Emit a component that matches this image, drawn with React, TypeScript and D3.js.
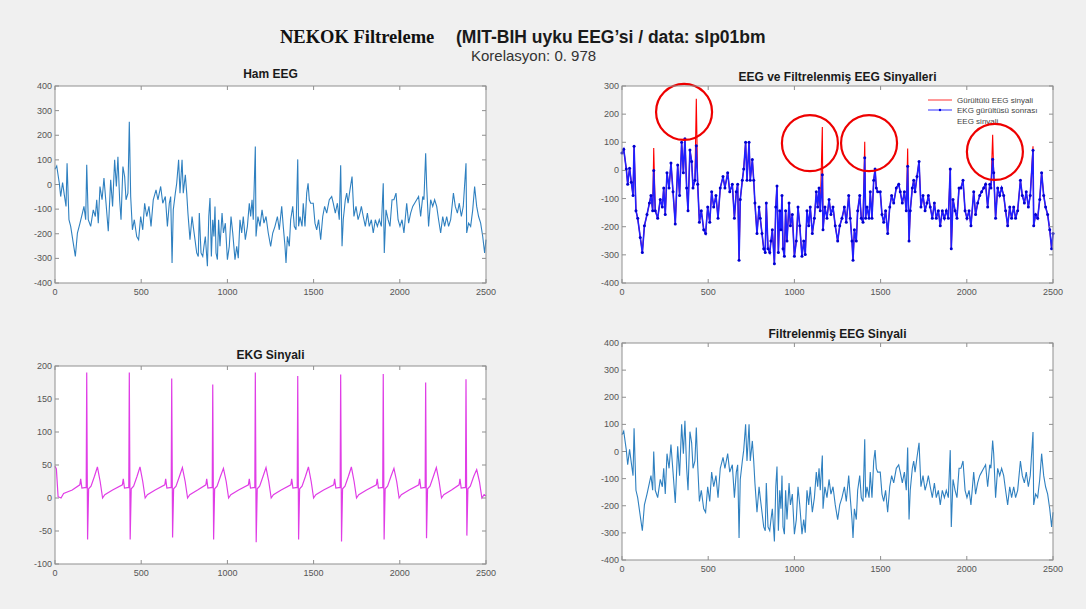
import React from 'react'
import * as d3 from 'd3'

const W = 1086
const H = 609

// x ekseni: örnek numarası
const xTicks = [0, 500, 1000, 1500, 2000, 2500]
const eegTicks = [-400, -300, -200, -100, 0, 100, 200, 300, 400]
const mixTicks = [-400, -300, -200, -100, 0, 100, 200, 300]
const ekgTicks = [-100, -50, 0, 50, 100, 150, 200]

// filtrelenmiş EEG [örnek, genlik]
const filteredEeg: [number, number][] = [
  [0, 62], [10, 75], [25, 5], [33, -49], [44, 8], [54, -42], [64, -89], [70, 86], [81, -143], [91, -170],
  [106, -238], [118, -292], [130, -197], [145, -157], [159, -116], [168, -89], [178, -143], [184, 0], [193, -143], [207, -170],
  [222, -103], [234, -130], [242, -62], [251, -157], [261, -8], [273, -62], [284, 26], [296, -76], [309, -190], [323, 19],
  [334, -89], [346, 100], [356, -8], [365, 113], [375, -62], [383, -143], [394, 73], [404, 32], [412, -62], [423, -35],
  [431, 88], [439, -49], [449, -184], [460, -143], [474, -211], [485, -224], [497, -130], [509, -184], [520, -76], [532, -130],
  [545, -89], [557, -170], [570, -62], [586, -22], [597, -62], [613, -8], [625, -76], [640, -49], [652, -170], [663, -76],
  [671, -49], [679, -319], [686, -103], [698, -35], [706, 5], [717, 100], [725, -35], [737, 100], [744, -35], [756, 39],
  [764, -35], [771, -116], [783, -224], [795, -130], [802, -170], [812, -224], [822, -278], [831, -292], [837, -116], [847, -278],
  [857, -292], [864, -251], [872, -211], [884, -332], [892, -130], [899, -55], [907, -292], [915, -143], [922, -211], [928, -89],
  [934, -278], [942, -305], [949, -143], [957, -251], [969, -116], [977, -197], [988, -157], [1000, -305], [1011, -251], [1021, -130],
  [1031, -197], [1044, -305], [1054, -251], [1063, -299], [1073, -143], [1083, -197], [1092, -130], [1104, -224], [1116, -170], [1127, -76],
  [1135, -130], [1143, -62], [1150, -143], [1162, -15], [1166, -211], [1177, -130], [1189, -170], [1201, -103], [1212, -157], [1224, -130],
  [1237, -197], [1251, -251], [1263, -197], [1276, -170], [1290, -130], [1301, -184], [1315, -89], [1324, -170], [1334, -251], [1340, -319],
  [1348, -211], [1359, -251], [1367, -143], [1379, -89], [1388, -170], [1398, -184], [1408, 45], [1413, -170], [1421, -130], [1433, -170],
  [1440, -76], [1450, -170], [1460, -35], [1468, 5], [1475, -62], [1483, -76], [1498, -76], [1508, -157], [1518, -184], [1529, -143],
  [1541, -224], [1553, -130], [1564, -89], [1576, -116], [1591, -62], [1605, -49], [1614, -76], [1626, -116], [1638, -76], [1649, -143],
  [1657, 15], [1665, -251], [1672, -143], [1684, -62], [1692, -35], [1700, -76], [1711, -22], [1723, 32], [1734, -130], [1746, -89],
  [1758, -143], [1769, -116], [1777, -89], [1788, -130], [1800, -170], [1812, -116], [1823, -170], [1835, -143], [1846, -197], [1858, -143],
  [1870, -170], [1881, -143], [1893, -170], [1904, 5], [1910, -278], [1920, -103], [1932, -143], [1943, -170], [1955, -62], [1966, -62],
  [1978, -35], [1990, -143], [2001, -170], [2013, -143], [2024, -197], [2040, -76], [2051, -157], [2063, -116], [2075, -89], [2086, -76],
  [2098, -62], [2109, -49], [2121, -130], [2133, -49], [2140, -62], [2150, 40], [2156, -8], [2167, -170], [2179, -62], [2191, -89],
  [2202, -62], [2214, -89], [2225, -143], [2237, -197], [2249, -130], [2260, -170], [2272, -130], [2283, -170], [2295, -143], [2311, -35],
  [2322, -89], [2334, -116], [2345, -76], [2357, -130], [2368, -89], [2384, 72], [2388, -197], [2399, -157], [2411, -170], [2423, -103],
  [2434, -8], [2446, -89], [2457, -130], [2469, -157], [2481, -211], [2492, -278], [2500, -224],
]

// ham EEG'deki EKG kaynaklı sivri uçlar
const spikeIdx = [184, 431, 1162, 1408, 1657, 2150, 2384]
const spikeVal = [80, 255, 154, 102, 78, 127, 86]

// EKG: R tepeleri
const ekgPeakIdx = [184, 431, 677, 915, 1162, 1408, 1657, 1904, 2150, 2384]
const ekgR = [190, 190, 181, 172, 190, 185, 187, 188, 175, 180]
const ekgS = [-63, -63, -60, -63, -67, -63, -66, -63, -61, -57]
const ekgT = [47, 47, 46, 45, 46, 47, 47, 45, 46, 43]
const ekgLead: [number, number][] = [[0, 48], [8, 44], [18, 2], [35, 0], [50, 7], [100, 12]]
const beatShape: [number, number | 'R' | 'S' | 'T'][] = [
  [-40, 20], [-35, 29], [-28, 15], [-3, 16], [0, 'R'], [5, 'S'], [11, 14], [25, 18], [45, 33], [62, 'T'], [78, 25], [92, 0], [105, 5], [150, 12],
]

// kırmızı daireler (veri koordinatı)
const circleX = [360, 1090, 1433, 2163]
const circleY = [208, 97, 97, 66]

const rawEeg: [number, number][] = filteredEeg.map(([s, v]) => {
  const k = spikeIdx.indexOf(s)
  return [s, k >= 0 ? spikeVal[k] : v]
})

const ekg: [number, number][] = [...ekgLead]
ekgPeakIdx.forEach((r, i) => {
  beatShape.forEach(([dx, v]) => {
    const s = r + dx
    if (s > 2500) return
    const val = v === 'R' ? ekgR[i] : v === 'S' ? ekgS[i] : v === 'T' ? ekgT[i] : v
    ekg.push([s, val])
  })
})
ekg.push([2500, 3])

const sans = "'Liberation Sans', Arial, sans-serif"

type Scales = { x: d3.ScaleLinear<number, number>, y: d3.ScaleLinear<number, number> }

function Panel (props: {
  left: number, right: number, top: number, bottom: number,
  yDomain: [number, number], yTicks: number[], title: string, titleY: number,
  draw: (s: Scales) => React.ReactNode
}) {
  const { left, right, top, bottom, yDomain, yTicks, title, titleY, draw } = props
  const x = d3.scaleLinear().domain([0, 2500]).range([left, right])
  const y = d3.scaleLinear().domain(yDomain).range([bottom, top])
  const tk = 4
  const axisCol = '#8f8f8f'
  return (
    <g>
      <rect x={left} y={top} width={right - left} height={bottom - top} fill='#fff' />
      {draw({ x, y })}
      <rect x={left} y={top} width={right - left} height={bottom - top} fill='none' stroke={axisCol} strokeWidth={1} />
      {xTicks.map(t => (
        <g key={'x' + t}>
          <line x1={x(t)} x2={x(t)} y1={bottom} y2={bottom - tk} stroke={axisCol} />
          <line x1={x(t)} x2={x(t)} y1={top} y2={top + tk} stroke={axisCol} />
          <text x={x(t)} y={bottom + 12} textAnchor='middle' fontSize={9} fill='#555' fontFamily={sans}>{t}</text>
        </g>
      ))}
      {yTicks.map(t => (
        <g key={'y' + t}>
          <line x1={left} x2={left + tk} y1={y(t)} y2={y(t)} stroke={axisCol} />
          <line x1={right} x2={right - tk} y1={y(t)} y2={y(t)} stroke={axisCol} />
          <text x={left - 3} y={y(t) + 3} textAnchor='end' fontSize={9} fill='#555' fontFamily={sans}>{t}</text>
        </g>
      ))}
      <text x={(left + right) / 2} y={titleY} textAnchor='middle' fontSize={12} fontWeight='bold' fill='#1a1a1a' fontFamily={sans}>{title}</text>
    </g>
  )
}

export default function App () {
  const line = (s: Scales) => d3.line<[number, number]>().x(d => s.x(d[0])).y(d => s.y(d[1]))
  const eegBlue = '#2f80c0'
  return (
    <svg width={W} height={H} style={{ position: 'fixed', left: 0, top: 0 }}>
      <rect width={W} height={H} fill='#f0f0f0' />
      <text x={280} y={43} fontSize={18.5} fontWeight='bold' fill='#111' fontFamily="'Liberation Serif', 'Times New Roman', serif">NEKOK Filtreleme</text>
      <text x={456} y={43} fontSize={17.5} fontWeight='bold' fill='#1a1a1a' fontFamily={sans}>(MIT-BIH uyku EEG’si / data: slp01bm</text>
      <text x={471} y={61} fontSize={15} fill='#333' fontFamily={sans}>Korelasyon: 0. 978</text>

      <Panel left={55} right={486} top={86} bottom={283} yDomain={[-400, 400]} yTicks={eegTicks} title='Ham EEG' titleY={78}
        draw={s => <path d={line(s)(rawEeg) || ''} fill='none' stroke={eegBlue} strokeWidth={1.1} />} />

      <Panel left={622} right={1053} top={86} bottom={283} yDomain={[-400, 300]} yTicks={mixTicks} title='EEG ve Filtrelenmiş EEG Sinyalleri' titleY={81}
        draw={s => (
          <g>
            <path d={line(s)(rawEeg) || ''} fill='none' stroke='#ff0000' strokeWidth={1.1} />
            <path d={line(s)(filteredEeg) || ''} fill='none' stroke='#2020ff' strokeWidth={1.6} />
            {filteredEeg.map((d, i) => <circle key={i} cx={s.x(d[0])} cy={s.y(d[1])} r={1.5} fill='#0000d0' />)}
            <line x1={928} x2={952} y1={100} y2={100} stroke='#ff3030' strokeWidth={1} />
            <text x={957} y={103} fontSize={8} fill='#444' fontFamily={sans}>Gürültülü EEG sinyali</text>
            <line x1={928} x2={952} y1={110} y2={110} stroke='#3030ff' strokeWidth={1} />
            <circle cx={940} cy={110} r={1.2} fill='#0000e0' />
            <text x={957} y={113} fontSize={8} fill='#444' fontFamily={sans}>EKG gürültüsü sonrası</text>
            <text x={957} y={124} fontSize={8} fill='#444' fontFamily={sans}>EEG sinyali</text>
            {circleX.map((cx, i) => (
              <circle key={'c' + i} cx={s.x(cx)} cy={s.y(circleY[i])} r={28} fill='none' stroke='#ee0000' strokeWidth={2.2} />
            ))}
          </g>
        )} />

      <Panel left={55} right={486} top={366} bottom={564} yDomain={[-100, 200]} yTicks={ekgTicks} title='EKG Sinyali' titleY={359}
        draw={s => <path d={line(s)(ekg) || ''} fill='none' stroke='#e03de6' strokeWidth={1.2} />} />

      <Panel left={622} right={1053} top={343} bottom={560} yDomain={[-400, 400]} yTicks={eegTicks} title='Filtrelenmiş EEG Sinyali' titleY={338}
        draw={s => <path d={line(s)(filteredEeg) || ''} fill='none' stroke={eegBlue} strokeWidth={1.1} />} />
    </svg>
  )
}
